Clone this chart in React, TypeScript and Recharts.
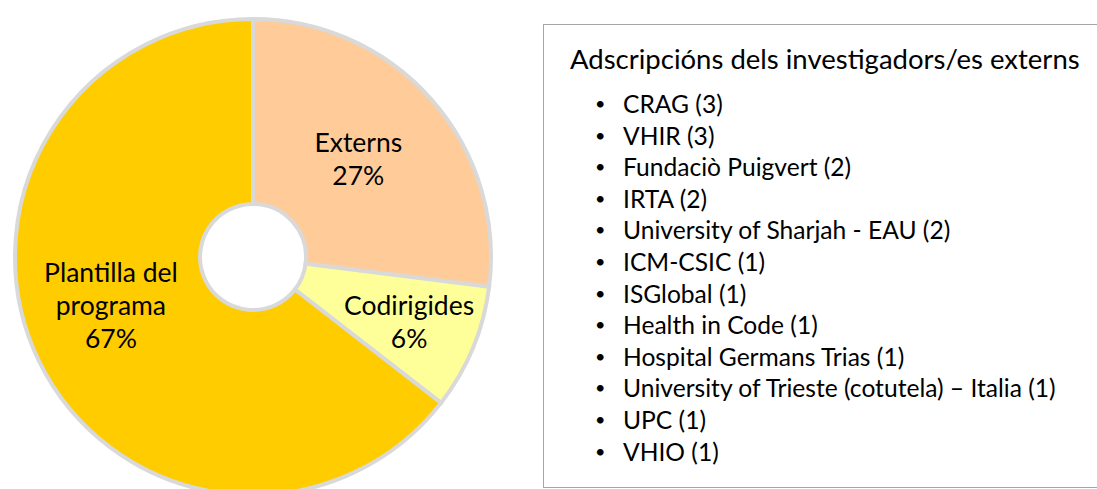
import { PieChart, Pie, Cell } from 'recharts';

// slices, clockwise from 12 o'clock
const categories = ['Externs', 'Codirigides', 'Plantilla del programa'];
const shares = [27, 8.5, 64.5];
const shareLabels = ['27%', '6%', '67%'];
const labelLines = [['Externs'], ['Codirigides'], ['Plantilla del', 'programa']];
const sliceColors = ['#FFCC99', '#FFFF99', '#FFCC00'];

// side list
const listTitle = 'Adscripcións dels investigadors/es externs';
const institutions = [
  'CRAG', 'VHIR', 'Fundaciò Puigvert', 'IRTA', 'University of Sharjah - EAU', 'ICM-CSIC',
  'ISGlobal', 'Health in Code', 'Hospital Germans Trias', 'University of Trieste (cotutela) – Italia',
  'UPC', 'VHIO',
];
const counts = [3, 3, 2, 2, 2, 1, 1, 1, 1, 1, 1, 1];

const pieData = categories.map((name, i) => ({ name, value: shares[i] }));

const FONT = 'Lato, "Open Sans", sans-serif';
const RAD = Math.PI / 180;
// where each label sits: distance from centre, and an angle override (Excel labels were hand placed)
const labelPlace = [{ r: 144, angle: 43 }, { r: 169 }, { r: 150, angle: 198.7 }];

const renderLabel = (props: any) => {
  const { cx, cy, midAngle, index } = props;
  const place = labelPlace[index];
  const ang = place.angle ?? midAngle;
  const x = cx + place.r * Math.cos(-ang * RAD);
  const y = cy + place.r * Math.sin(-ang * RAD);
  const lines = [...labelLines[index], shareLabels[index]];
  const lh = 33;
  return (
    <text x={x} y={y} textAnchor="middle" dominantBaseline="central" fill="#000" style={{ fontFamily: FONT, fontSize: 26.5 }}>
      {lines.map((ln, i) => (
        <tspan key={i} x={x} dy={i === 0 ? -((lines.length - 1) / 2) * lh : lh}>{ln}</tspan>
      ))}
    </text>
  );
};

export default function App() {
  return (
    <div style={{ position: 'fixed', top: 0, left: 0, width: 1097, height: 489, background: '#fff', overflow: 'hidden' }}>
      <PieChart width={1097} height={489} style={{ position: 'absolute', top: 0, left: 0 }}>
        <Pie
          data={pieData}
          dataKey="value"
          nameKey="name"
          cx={248}
          cy={252}
          innerRadius={53}
          outerRadius={238}
          startAngle={90}
          endAngle={-270}
          stroke="#D9D9D9"
          strokeWidth={4}
          label={renderLabel}
          labelLine={false}
          isAnimationActive={false}
        >
          {pieData.map((d, i) => (
            <Cell key={d.name} fill={sliceColors[i]} />
          ))}
        </Pie>
      </PieChart>

      <div style={{ position: 'absolute', left: 543, top: 24, width: 560, height: 464, border: '1.5px solid #a6a6a6', boxSizing: 'border-box', fontFamily: FONT, color: '#000' }}>
        <div style={{ position: 'absolute', left: 26, top: 17, fontSize: 27.5, whiteSpace: 'nowrap' }}>{listTitle}</div>
        <div style={{ position: 'absolute', left: 50, top: 63 }}>
          {institutions.map((inst, i) => (
            <div key={inst} style={{ height: 31.6, lineHeight: '31.6px', fontSize: 24.6, whiteSpace: 'nowrap', position: 'relative' }}>
              <span style={{ position: 'absolute', left: 1, fontSize: 18 }}>•</span>
              <span style={{ position: 'absolute', left: 29 }}>{inst} ({counts[i]})</span>
            </div>
          ))}
        </div>
      </div>
    </div>
  );
}
